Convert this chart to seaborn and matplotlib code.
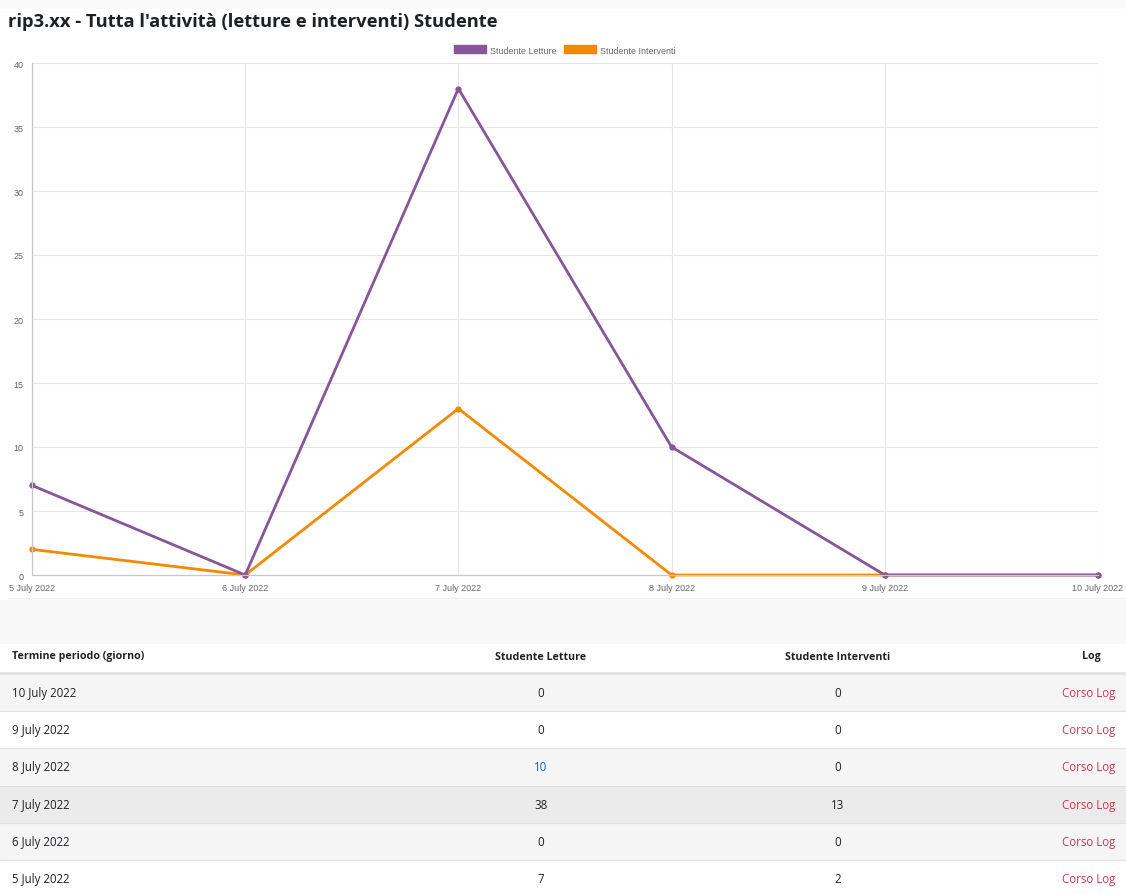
import pandas as pd
import numpy as np
import matplotlib.pyplot as plt
import seaborn as sns
from matplotlib.patches import Patch, Rectangle

# ------------------------------------------------------------
# Dati
# ------------------------------------------------------------
giorni = ["5 July 2022", "6 July 2022", "7 July 2022",
          "8 July 2022", "9 July 2022", "10 July 2022"]
letture = [7, 0, 38, 10, 0, 0]
interventi = [2, 0, 13, 0, 0, 0]

titolo = "rip3.xx - Tutta l'attività (letture e interventi) Studente"
serie = ["Studente Letture", "Studente Interventi"]
intestazioni = ["Termine periodo (giorno)", "Studente Letture", "Studente Interventi", "Log"]
link_log = "Corso Log"

colori = {"Studente Letture": "#87559a", "Studente Interventi": "#f38900"}

df = pd.DataFrame({
    "giorno": list(range(len(giorni))) * 2,
    "valore": letture + interventi,
    "serie": [serie[0]] * len(giorni) + [serie[1]] * len(giorni),
})

# ------------------------------------------------------------
# Figura
# ------------------------------------------------------------
sns.set_style("white")
plt.rcParams["font.family"] = ["Liberation Sans", "DejaVu Sans"]

W, H = 1126, 895
fig = plt.figure(figsize=(W / 100, H / 100), dpi=100)
fig.patch.set_facecolor("white")

# sfondo pagina / tabella in coordinate pixel
bg = fig.add_axes([0, 0, 1, 1])
bg.set_xlim(0, W)
bg.set_ylim(H, 0)
bg.axis("off")
bg.add_patch(Rectangle((0, 0), W, 10, color="#fafafa", lw=0))
bg.add_patch(Rectangle((0, 601), W, 44, color="#f8f8f8", lw=0))
bg.plot([8, W], [599, 599], color="#eeeeee", lw=1)

bg.text(8, 22, titolo, fontsize=13.2, fontweight="bold", family=["Open Sans", "DejaVu Sans"],
        color="#1d2125", va="center", ha="left")

# ------------------------------------------------------------
# Grafico
# ------------------------------------------------------------
ax = fig.add_axes([32 / W, 1 - 576 / H, (1098 - 32) / W, 512 / H])
ax.set_zorder(2)
ax.patch.set_alpha(0)

sns.lineplot(data=df[df["serie"] == serie[1]], x="giorno", y="valore", color=colori[serie[1]],
             lw=2, marker="o", markersize=4.5, markeredgewidth=0, ax=ax, clip_on=False)
sns.lineplot(data=df[df["serie"] == serie[0]], x="giorno", y="valore", color=colori[serie[0]],
             lw=2, marker="o", markersize=4.5, markeredgewidth=0, ax=ax, clip_on=False)

ax.set_xlim(0, len(giorni) - 1)
ax.set_ylim(0, 40)
ax.set_yticks(range(0, 41, 5))
ax.set_xticks(range(len(giorni)))
ax.set_xticklabels(giorni)
ax.set_xlabel("")
ax.set_ylabel("")
ax.grid(True, color="#e6e6e6", lw=0.8)
ax.tick_params(axis="both", labelsize=6.5, labelcolor="#666666", length=4, color="#dddddd", width=0.8, pad=2)
for s in ["top", "right"]:
    ax.spines[s].set_visible(False)
for s in ["left", "bottom"]:
    ax.spines[s].set_color("#c8c8c8")
    ax.spines[s].set_linewidth(0.9)

handles = [Patch(facecolor=colori[s], edgecolor=colori[s]) for s in serie]
fig.legend(handles, serie, loc="center", bbox_to_anchor=(565 / W, 1 - 51 / H), ncol=2, frameon=False,
           fontsize=6.4, labelcolor="#666666", handlelength=3.6, handleheight=1.0,
           handletextpad=0.5, columnspacing=0.8)

# ------------------------------------------------------------
# Tabella
# ------------------------------------------------------------
font_tab = ["Open Sans", "DejaVu Sans"]
x_col = [12, 541, 838, 1101]
ha_col = ["left", "center", "center", "right"]

bg.add_patch(Rectangle((0, 645), W, 30, color="white", lw=0))
for i, t in enumerate(intestazioni):
    bg.text(x_col[i], 657, t, fontsize=7.7, fontweight="bold", family=font_tab,
            color="#1d2125", ha=ha_col[i], va="center")
bg.plot([0, W], [674, 674], color="#dee2e6", lw=2)

riga_h = 37.2
sfondi = ["#f5f5f5", "white", "#f5f5f5", "#ebebeb", "#f5f5f5", "white"]
righe = list(zip(giorni, letture, interventi))[::-1]
for r, (g, l, iv) in enumerate(righe):
    y0 = 675 + r * riga_h
    yc = y0 + riga_h / 2
    bg.add_patch(Rectangle((0, y0), W, riga_h, color=sfondi[r], lw=0))
    bg.plot([0, W], [y0 + riga_h, y0 + riga_h], color="#dee2e6", lw=0.8)
    col_l = "#1f5f8f" if l == 10 else "#1d2125"
    bg.text(x_col[0], yc, g, fontsize=8.3, family=font_tab, color="#1d2125", ha="left", va="center")
    bg.text(x_col[1], yc, str(l), fontsize=8.3, family=font_tab, color=col_l, ha="center", va="center")
    bg.text(x_col[2], yc, str(iv), fontsize=8.3, family=font_tab, color="#1d2125", ha="center", va="center")
    bg.text(1115, yc, link_log, fontsize=8.3, family=font_tab, color="#c53a50", ha="right", va="center")

fig.savefig("out.png", dpi=100)
